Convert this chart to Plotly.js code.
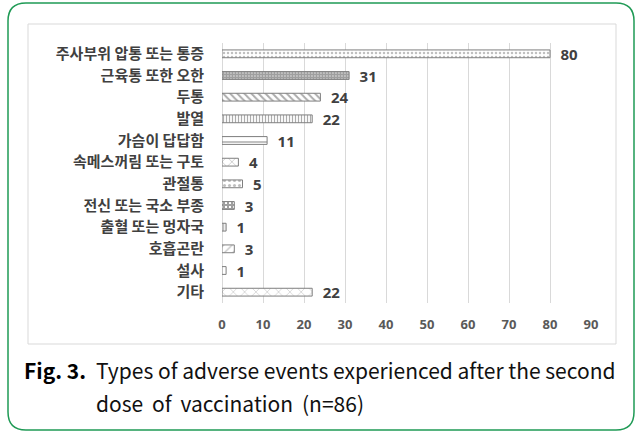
<!DOCTYPE html>
<html>
<head>
<meta charset="utf-8">
<script src="https://cdn.plot.ly/plotly-3.0.1.min.js"></script>
<style>
html,body{margin:0;padding:0;background:#fff;}
#chart{width:637px;height:433px;}
</style>
</head>
<body>
<div id="chart"></div>
<script>
// ---- data ----
var categories = ["주사부위 압통 또는 통증","근육통 또한 오한","두통","발열","가슴이 답답함","속메스꺼림 또는 구토","관절통","전신 또는 국소 부종","출혈 또는 멍자국","호흡곤란","설사","기타"];
var counts = [80, 31, 24, 22, 11, 4, 5, 3, 1, 3, 1, 22];
var xTicks = [0,10,20,30,40,50,60,70,80,90];
var captionLabel = "Fig. 3.";
var captionLine1 = "Types of adverse events experienced after the second";
var captionLine2 = "dose of vaccination (n=86)";

// ---- styling (per-bar patterns) ----
var patShapes = [".", ".", "\\", "|", "-", "x", ".", "+", "|", "/", "", "x"];
var patFg = ["#7f7f7f","#404040","#595959","#595959","#595959","#7f7f7f","#7f7f7f","#404040","#7f7f7f","#7f7f7f","#7f7f7f","#8c8c8c"];
var patSize = [4, 3, 5, 3, 6, 7, 5, 4, 3, 6, 4, 8];
var patSolid = [0.3, 0.8, 0.4, 0.4, 0.25, 0.2, 0.3, 0.75, 0.5, 0.2, 0.2, 0.15];

// plot area in pixels
var L = 222, R = 591, T = 43, B = 303;
var W = R - L, Hh = B - T;
function px(x){ return (x - L) / W; }
function py(y){ return (B - y) / Hh; }
function rrect(x0, y0, x1, y1, r){
  return "M " + px(x0 + r) + "," + py(y0) +
    " L " + px(x1 - r) + "," + py(y0) +
    " Q " + px(x1) + "," + py(y0) + " " + px(x1) + "," + py(y0 + r) +
    " L " + px(x1) + "," + py(y1 - r) +
    " Q " + px(x1) + "," + py(y1) + " " + px(x1 - r) + "," + py(y1) +
    " L " + px(x0 + r) + "," + py(y1) +
    " Q " + px(x0) + "," + py(y1) + " " + px(x0) + "," + py(y1 - r) +
    " L " + px(x0) + "," + py(y0 + r) +
    " Q " + px(x0) + "," + py(y0) + " " + px(x0 + r) + "," + py(y0) + " Z";
}
function spread(s, gap){ return s.split(" ").join(" " + gap); }

var trace = {
  type: "bar",
  orientation: "h",
  y: categories,
  x: counts,
  width: 0.36,
  marker: {
    color: "#ffffff",
    line: {color: "#7f7f7f", width: 1},
    pattern: {shape: patShapes, fgcolor: patFg, bgcolor: "#ffffff", size: patSize, solidity: patSolid, fillmode: "overlay"}
  },
  texttemplate: "\u2002%{x}",
  textposition: "outside",
  constraintext: "none",
  cliponaxis: false,
  textfont: {family: "Noto Sans, sans-serif", size: 15, color: "#404040", weight: "bold"},
  hoverinfo: "none"
};

var layout = {
  width: 637, height: 433,
  margin: {l: L, r: 637 - R, t: T, b: 433 - B},
  paper_bgcolor: "#ffffff",
  plot_bgcolor: "rgba(0,0,0,0)",
  showlegend: false,
  xaxis: {
    range: [0, 90],
    tickvals: xTicks,
    ticktext: xTicks.map(String),
    showgrid: true, gridcolor: "#d9d9d9", gridwidth: 1,
    zeroline: true, zerolinecolor: "#d9d9d9", zerolinewidth: 1,
    showline: false,
    ticks: "", ticklabelstandoff: 12,
    tickfont: {family: "Noto Sans, sans-serif", size: 13, color: "#595959", weight: "bold"},
    fixedrange: true
  },
  yaxis: {
    autorange: "reversed",
    showgrid: false, zeroline: false, showline: false,
    ticks: "", ticklabelstandoff: 17,
    tickfont: {family: "Noto Sans CJK KR, sans-serif", size: 15, color: "#404040", weight: "bold"},
    fixedrange: true
  },
  shapes: [
    {type: "path", xref: "paper", yref: "paper", path: rrect(8, 3, 634, 430, 18), line: {color: "#1f9a55", width: 1.5}, fillcolor: "rgba(0,0,0,0)", layer: "below"},
    {type: "rect", xref: "paper", yref: "paper", x0: px(28), x1: px(616), y0: py(24), y1: py(344), line: {color: "#d9d9d9", width: 1}, fillcolor: "rgba(0,0,0,0)", layer: "below"}
  ],
  annotations: [
    {xref: "paper", yref: "paper", x: px(22), y: py(370), xanchor: "left", yanchor: "middle", showarrow: false,
     text: "<b>" + captionLabel + "</b>", font: {family: "Noto Sans CJK KR, sans-serif", size: 21, color: "#000000"}},
    {xref: "paper", yref: "paper", x: px(94), y: py(370), xanchor: "left", yanchor: "middle", showarrow: false,
     text: captionLine1, font: {family: "Noto Sans CJK KR, sans-serif", size: 21, color: "#111111"}},
    {xref: "paper", yref: "paper", x: px(94), y: py(403), xanchor: "left", yanchor: "middle", showarrow: false,
     text: spread(captionLine2, "\u2009"), font: {family: "Noto Sans CJK KR, sans-serif", size: 21, color: "#111111"}}
  ]
};

Plotly.newPlot("chart", [trace], layout, {displayModeBar: false, staticPlot: true});
</script>
</body>
</html>
